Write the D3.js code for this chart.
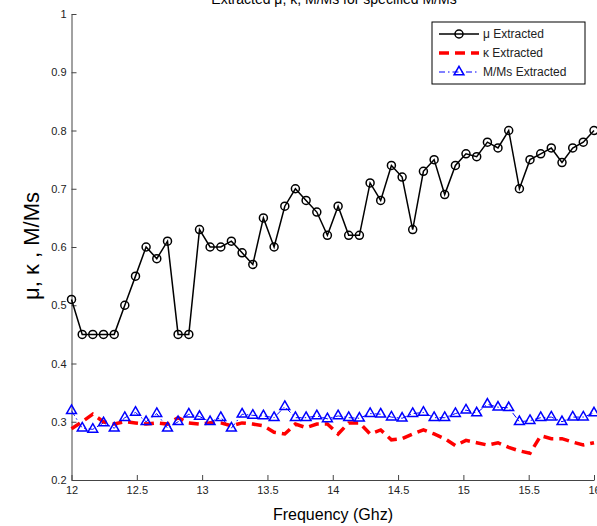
<!DOCTYPE html>
<meta charset="utf-8">
<style>
body { margin: 0; background: #fff; }
svg { font-family: Arial, "Liberation Sans", sans-serif; }
.axis path, .axis line { stroke: #444; }
.axis text { fill: #222; font-size: 11px; }
</style>
<svg width="597" height="526"></svg>
<script src="https://cdnjs.cloudflare.com/ajax/libs/d3/7.8.5/d3.min.js"></script>
<script>
// frequency samples (GHz)
var freq = [12.000, 12.082, 12.163, 12.245, 12.327, 12.408, 12.490, 12.571, 12.653, 12.735,
            12.816, 12.898, 12.980, 13.061, 13.143, 13.224, 13.306, 13.388, 13.469, 13.551,
            13.633, 13.714, 13.796, 13.878, 13.959, 14.041, 14.122, 14.204, 14.286, 14.367,
            14.449, 14.531, 14.612, 14.694, 14.776, 14.857, 14.939, 15.020, 15.102, 15.184,
            15.265, 15.347, 15.429, 15.510, 15.592, 15.673, 15.755, 15.837, 15.918, 16.000];

var mu = [0.51, 0.45, 0.45, 0.45, 0.45, 0.50, 0.55, 0.60, 0.58, 0.61,
          0.45, 0.45, 0.63, 0.60, 0.60, 0.61, 0.59, 0.57, 0.65, 0.60,
          0.67, 0.70, 0.68, 0.66, 0.62, 0.67, 0.62, 0.62, 0.71, 0.68,
          0.74, 0.72, 0.63, 0.73, 0.75, 0.69, 0.74, 0.76, 0.755, 0.78,
          0.77, 0.80, 0.70, 0.75, 0.76, 0.77, 0.745, 0.77, 0.78, 0.80];

var kappa = [0.288, 0.300, 0.313, 0.300, 0.296, 0.300, 0.298, 0.296, 0.298, 0.296,
             0.307, 0.298, 0.296, 0.298, 0.298, 0.293, 0.298, 0.296, 0.293, 0.282,
             0.279, 0.296, 0.290, 0.296, 0.296, 0.279, 0.298, 0.298, 0.279, 0.286,
             0.269, 0.271, 0.279, 0.286, 0.279, 0.271, 0.259, 0.268, 0.264, 0.260,
             0.264, 0.256, 0.250, 0.246, 0.276, 0.271, 0.271, 0.265, 0.260, 0.264];

var mms = [0.319, 0.289, 0.287, 0.298, 0.289, 0.307, 0.316, 0.300, 0.314, 0.289,
           0.300, 0.313, 0.309, 0.300, 0.307, 0.289, 0.313, 0.311, 0.310, 0.307,
           0.326, 0.307, 0.307, 0.310, 0.305, 0.310, 0.307, 0.306, 0.314, 0.313,
           0.308, 0.306, 0.314, 0.316, 0.307, 0.307, 0.314, 0.320, 0.315, 0.330,
           0.325, 0.324, 0.300, 0.302, 0.307, 0.308, 0.300, 0.308, 0.308, 0.315];

var xTicks = [12, 12.5, 13, 13.5, 14, 14.5, 15, 15.5, 16];
var yTicks = [0.2, 0.3, 0.4, 0.5, 0.6, 0.7, 0.8, 0.9, 1];

var legendLabels = ["\u03bc Extracted", "\u03ba Extracted", "M/Ms Extracted"];

var svg = d3.select("svg");

var x = d3.scaleLinear().domain([12, 16]).range([71.5, 594]),
    y = d3.scaleLinear().domain([0.2, 1]).range([480, 14]);

// axes (ticks point inward, MATLAB style)
svg.append("g")
    .attr("class", "axis")
    .attr("transform", "translate(0,480)")
    .call(d3.axisBottom(x).tickValues(xTicks).tickSizeInner(-5).tickSizeOuter(0)
      .tickPadding(4).tickFormat(d3.format("")))
    .call(g => g.selectAll("text").attr("dy", "0.9em"));

svg.append("g")
    .attr("class", "axis")
    .attr("transform", "translate(71.5,0)")
    .call(d3.axisLeft(y).tickValues(yTicks).tickSizeInner(-5).tickSizeOuter(0)
      .tickPadding(5).tickFormat(d3.format("")));

var line = d3.line()
    .x(function(d, i) { return x(freq[i]); })
    .y(function(d) { return y(d); });

// M/Ms
svg.append("path")
    .attr("d", line(mms))
    .attr("fill", "none")
    .attr("stroke", "#0000ff")
    .attr("stroke-width", 1)
    .attr("stroke-dasharray", "6,3,1.5,3");

// kappa
svg.append("path")
    .attr("d", line(kappa))
    .attr("fill", "none")
    .attr("stroke", "#ff0000")
    .attr("stroke-width", 3.5)
    .attr("stroke-dasharray", "10,6");

// mu
svg.append("path")
    .attr("d", line(mu))
    .attr("fill", "none")
    .attr("stroke", "#000")
    .attr("stroke-width", 1.5);

svg.selectAll(".mu-pt")
    .data(mu)
  .enter().append("circle")
    .attr("class", "mu-pt")
    .attr("cx", function(d, i) { return x(freq[i]); })
    .attr("cy", function(d) { return y(d); })
    .attr("r", 4)
    .attr("fill", "none")
    .attr("stroke", "#000")
    .attr("stroke-width", 1.5);

var tri = d3.symbol().type(d3.symbolTriangle).size(42);

svg.selectAll(".mms-pt")
    .data(mms)
  .enter().append("path")
    .attr("class", "mms-pt")
    .attr("transform", function(d, i) { return "translate(" + x(freq[i]) + "," + y(d) + ")"; })
    .attr("d", tri)
    .attr("fill", "none")
    .attr("stroke", "#0000ff")
    .attr("stroke-width", 1.5);

// title (cut off at top, as in the original)
svg.append("text")
    .attr("x", 334)
    .attr("y", 4)
    .attr("text-anchor", "middle")
    .style("font-size", "14px")
    .text("Extracted \u03bc, \u03ba, M/Ms for specified M/Ms");

// axis labels
svg.append("text")
    .attr("x", 333)
    .attr("y", 520)
    .attr("text-anchor", "middle")
    .style("font-size", "16px")
    .text("Frequency (Ghz)");

svg.append("text")
    .attr("transform", "translate(39,246) rotate(-90)")
    .attr("text-anchor", "middle")
    .style("font-size", "22px")
    .text("\u03bc, \u03ba , M/Ms");

// legend
var legend = svg.append("g").attr("transform", "translate(432,22)");

legend.append("rect")
    .attr("width", 153)
    .attr("height", 62)
    .attr("fill", "#fff")
    .attr("stroke", "#000");

var rows = legend.selectAll(".row")
    .data(legendLabels)
  .enter().append("g")
    .attr("transform", function(d, i) { return "translate(0," + (12 + i * 19) + ")"; });

rows.append("line")
    .attr("x1", 7).attr("x2", 47)
    .attr("stroke", function(d, i) { return ["#000", "#ff0000", "#0000ff"][i]; })
    .attr("stroke-width", function(d, i) { return [1.5, 3.5, 1][i]; })
    .attr("stroke-dasharray", function(d, i) { return [null, "10,6", "6,3,1.5,3"][i]; });

rows.filter(function(d, i) { return i === 0; }).append("circle")
    .attr("cx", 27).attr("r", 4)
    .attr("fill", "none").attr("stroke", "#000").attr("stroke-width", 1.5);

rows.filter(function(d, i) { return i === 2; }).append("path")
    .attr("transform", "translate(27,0)")
    .attr("d", tri)
    .attr("fill", "none").attr("stroke", "#0000ff").attr("stroke-width", 1.5);

rows.append("text")
    .attr("x", 51)
    .attr("dy", "0.35em")
    .style("font-size", "12px")
    .attr("fill", "#222")
    .text(function(d) { return d; });
</script>
